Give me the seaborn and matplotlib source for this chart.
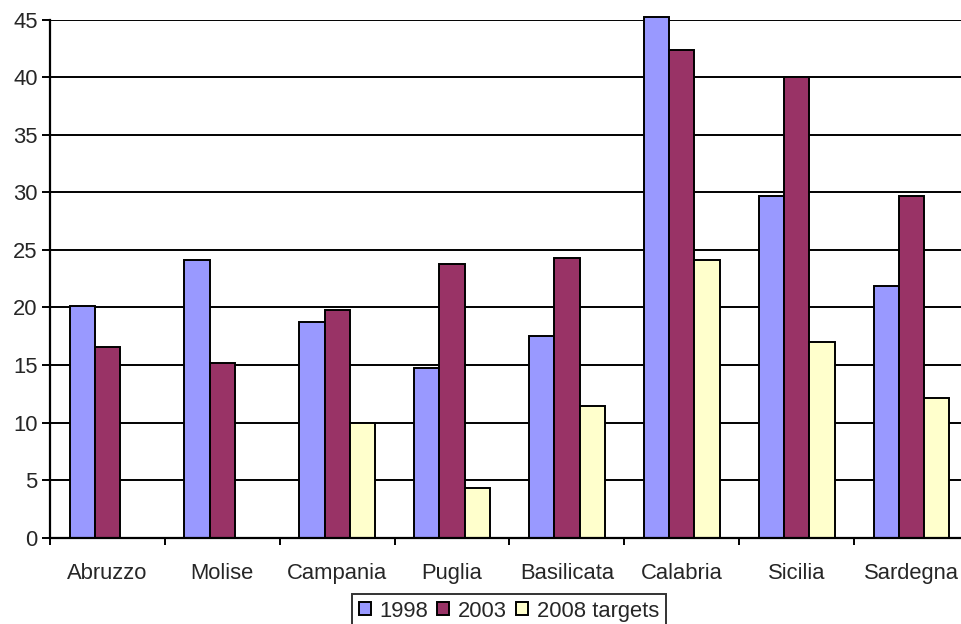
import numpy as np
import pandas as pd
import matplotlib
matplotlib.use("Agg")
import matplotlib.pyplot as plt
import seaborn as sns

regions = ["Abruzzo", "Molise", "Campania", "Puglia", "Basilicata",
           "Calabria", "Sicilia", "Sardegna"]
series_names = ["1998", "2003", "2008 targets"]
values_1998 = [20.1, 24.1, 18.7, 14.7, 17.5, 45.2, 29.7, 21.9]
values_2003 = [16.6, 15.2, 19.8, 23.8, 24.3, 42.4, 40.0, 29.7]
values_2008 = [np.nan, np.nan, 10.0, 4.3, 11.4, 24.1, 17.0, 12.1]
y_ticks = [0, 5, 10, 15, 20, 25, 30, 35, 40, 45]
colors = ["#9999FF", "#993366", "#FFFFCC"]

df = pd.DataFrame({
    "region": regions * 3,
    "series": [s for s in series_names for _ in regions],
    "value": values_1998 + values_2003 + values_2008,
})

sns.set_style("white")
plt.rcParams["font.family"] = ["Liberation Sans", "DejaVu Sans"]
FS = 15.8

fig = plt.figure(figsize=(9.61, 6.24), dpi=100)
ax = fig.add_axes([50 / 961, 1 - 537.7 / 624, 919 / 961, 518 / 624])

sns.barplot(data=df, x="region", y="value", hue="series",
            hue_order=series_names, order=regions, palette=colors,
            width=0.66, edgecolor="black", linewidth=1.4,
            saturation=1, errorbar=None, ax=ax, legend=True)

for bar in ax.patches:
    bar.set_clip_on(False)

ax.set_ylim(0, 45)
ax.set_xlim(-0.5, 7.5)
ax.set_yticks(y_ticks)
ax.set_yticklabels([str(t) for t in y_ticks])
ax.set_xlabel("")
ax.set_ylabel("")

ax.yaxis.grid(True, color="black", linewidth=1.4)
ax.set_axisbelow(True)

# Category ticks sit on the boundaries between groups
ax.set_xticks(np.arange(len(regions)))
ax.set_xticklabels(regions)
ax.tick_params(axis="x", which="major", length=0, pad=18, labelsize=FS)
ax.set_xticks(np.arange(len(regions) + 1) - 0.5, minor=True)
ax.tick_params(axis="x", which="minor", length=5, width=1.4, color="black",
               direction="out", bottom=True)
ax.tick_params(axis="y", length=6, width=1.4, color="black", direction="out",
               left=True, pad=3, labelsize=FS)

for side in ["top", "right"]:
    ax.spines[side].set_visible(False)
for side in ["left", "bottom"]:
    ax.spines[side].set_color("black")
    ax.spines[side].set_linewidth(1.6)

handles, labels = ax.get_legend_handles_labels()
ax.legend_.remove()
leg = fig.legend(handles, labels, loc="upper center",
                 bbox_to_anchor=(509 / 961, 1 - 594 / 624),
                 ncol=3, frameon=True, fancybox=False, shadow=False,
                 fontsize=FS, handlelength=0.55, handleheight=0.55,
                 handletextpad=0.4, columnspacing=0.4, borderpad=0.3,
                 borderaxespad=0)
leg.get_frame().set_edgecolor("black")
leg.get_frame().set_linewidth(1.4)

fig.savefig("out.png", dpi=100)
